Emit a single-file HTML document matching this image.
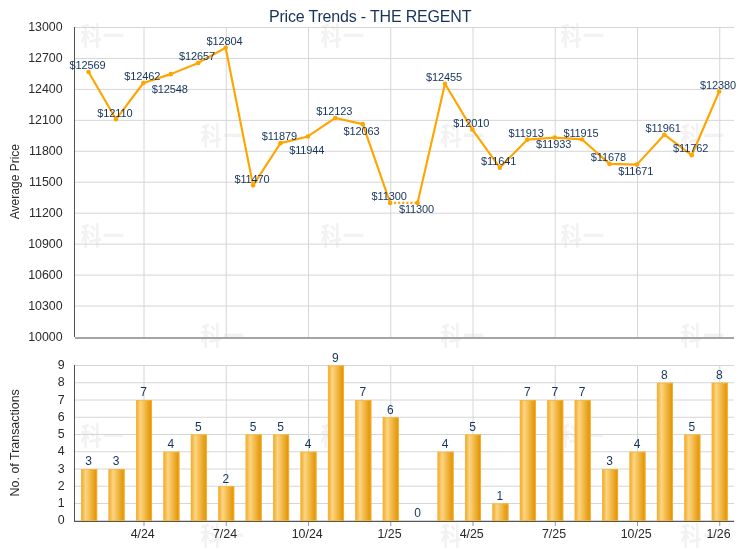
<!DOCTYPE html>
<html><head><meta charset="utf-8"><title>Price Trends - THE REGENT</title>
<style>
html,body{margin:0;padding:0;background:#fff;}
body{width:740px;height:550px;overflow:hidden;font-family:"Liberation Sans","Noto Sans CJK SC",sans-serif;}
svg{display:block}
.ax{font-size:12.4px;fill:#2a2a2a}
.lb{font-size:11px;letter-spacing:-0.117px;fill:#15335d}
.bl{font-size:12px;fill:#15335d}
.wm{font-family:"Liberation Sans","Noto Sans CJK TC",sans-serif;font-weight:700;font-size:21px;letter-spacing:1.5px;fill:#f2f2f2}
</style></head><body>
<svg width="740" height="550" viewBox="0 0 740 550">
<defs><linearGradient id="g" x1="0" y1="0" x2="1" y2="0">
<stop offset="0" stop-color="#f0a626"/><stop offset="0.28" stop-color="#fdd582"/><stop offset="0.95" stop-color="#e39400"/><stop offset="1" stop-color="#e39400"/>
</linearGradient></defs>
<rect width="740" height="550" fill="#fff"/>

<g class="wm">
<text transform="translate(80.5,45) scale(1,1.18)">科一</text>
<text transform="translate(200.5,145) scale(1,1.18)">科一</text>
<text transform="translate(320.5,45) scale(1,1.18)">科一</text>
<text transform="translate(440.5,145) scale(1,1.18)">科一</text>
<text transform="translate(560.5,45) scale(1,1.18)">科一</text>
<text transform="translate(680.5,145) scale(1,1.18)">科一</text>
<text transform="translate(80.5,245) scale(1,1.18)">科一</text>
<text transform="translate(200.5,345) scale(1,1.18)">科一</text>
<text transform="translate(320.5,245) scale(1,1.18)">科一</text>
<text transform="translate(440.5,345) scale(1,1.18)">科一</text>
<text transform="translate(560.5,245) scale(1,1.18)">科一</text>
<text transform="translate(680.5,345) scale(1,1.18)">科一</text>
<text transform="translate(80.5,445) scale(1,1.18)">科一</text>
<text transform="translate(200.5,545) scale(1,1.18)">科一</text>
<text transform="translate(320.5,445) scale(1,1.18)">科一</text>
<text transform="translate(440.5,545) scale(1,1.18)">科一</text>
<text transform="translate(560.5,445) scale(1,1.18)">科一</text>
<text transform="translate(680.5,545) scale(1,1.18)">科一</text>
</g>
<g stroke="#d6d6d6" stroke-width="1">
<line x1="75" x2="734" y1="27.50" y2="27.50"/>
<line x1="75" x2="734" y1="58.45" y2="58.45"/>
<line x1="75" x2="734" y1="89.40" y2="89.40"/>
<line x1="75" x2="734" y1="120.35" y2="120.35"/>
<line x1="75" x2="734" y1="151.30" y2="151.30"/>
<line x1="75" x2="734" y1="182.25" y2="182.25"/>
<line x1="75" x2="734" y1="213.20" y2="213.20"/>
<line x1="75" x2="734" y1="244.15" y2="244.15"/>
<line x1="75" x2="734" y1="275.10" y2="275.10"/>
<line x1="75" x2="734" y1="306.05" y2="306.05"/>
<line x1="75" x2="734" y1="520.50" y2="520.50"/>
<line x1="75" x2="734" y1="503.50" y2="503.50"/>
<line x1="75" x2="734" y1="486.25" y2="486.25"/>
<line x1="75" x2="734" y1="469.00" y2="469.00"/>
<line x1="75" x2="734" y1="451.75" y2="451.75"/>
<line x1="75" x2="734" y1="434.50" y2="434.50"/>
<line x1="75" x2="734" y1="417.25" y2="417.25"/>
<line x1="75" x2="734" y1="400.00" y2="400.00"/>
<line x1="75" x2="734" y1="382.75" y2="382.75"/>
<line x1="75" x2="734" y1="365.50" y2="365.50"/>
<line x1="144.00" x2="144.00" y1="27" y2="337"/>
<line x1="144.00" x2="144.00" y1="365" y2="521"/>
<line x1="226.25" x2="226.25" y1="27" y2="337"/>
<line x1="226.25" x2="226.25" y1="365" y2="521"/>
<line x1="308.51" x2="308.51" y1="27" y2="337"/>
<line x1="308.51" x2="308.51" y1="365" y2="521"/>
<line x1="390.76" x2="390.76" y1="27" y2="337"/>
<line x1="390.76" x2="390.76" y1="365" y2="521"/>
<line x1="473.01" x2="473.01" y1="27" y2="337"/>
<line x1="473.01" x2="473.01" y1="365" y2="521"/>
<line x1="555.26" x2="555.26" y1="27" y2="337"/>
<line x1="555.26" x2="555.26" y1="365" y2="521"/>
<line x1="637.51" x2="637.51" y1="27" y2="337"/>
<line x1="637.51" x2="637.51" y1="365" y2="521"/>
<line x1="719.76" x2="719.76" y1="27" y2="337"/>
<line x1="719.76" x2="719.76" y1="365" y2="521"/>
</g>
<rect x="81.17" y="469.00" width="16" height="52.00" fill="url(#g)"/>
<rect x="81.67" y="469.50" width="15" height="51.00" fill="none" stroke="#fbb73a" stroke-opacity="0.75" stroke-width="1"/>
<rect x="108.59" y="469.00" width="16" height="52.00" fill="url(#g)"/>
<rect x="109.09" y="469.50" width="15" height="51.00" fill="none" stroke="#fbb73a" stroke-opacity="0.75" stroke-width="1"/>
<rect x="136.00" y="400.00" width="16" height="121.00" fill="url(#g)"/>
<rect x="136.50" y="400.50" width="15" height="120.00" fill="none" stroke="#fbb73a" stroke-opacity="0.75" stroke-width="1"/>
<rect x="163.42" y="451.75" width="16" height="69.25" fill="url(#g)"/>
<rect x="163.92" y="452.25" width="15" height="68.25" fill="none" stroke="#fbb73a" stroke-opacity="0.75" stroke-width="1"/>
<rect x="190.84" y="434.50" width="16" height="86.50" fill="url(#g)"/>
<rect x="191.34" y="435.00" width="15" height="85.50" fill="none" stroke="#fbb73a" stroke-opacity="0.75" stroke-width="1"/>
<rect x="218.25" y="486.25" width="16" height="34.75" fill="url(#g)"/>
<rect x="218.75" y="486.75" width="15" height="33.75" fill="none" stroke="#fbb73a" stroke-opacity="0.75" stroke-width="1"/>
<rect x="245.67" y="434.50" width="16" height="86.50" fill="url(#g)"/>
<rect x="246.17" y="435.00" width="15" height="85.50" fill="none" stroke="#fbb73a" stroke-opacity="0.75" stroke-width="1"/>
<rect x="273.09" y="434.50" width="16" height="86.50" fill="url(#g)"/>
<rect x="273.59" y="435.00" width="15" height="85.50" fill="none" stroke="#fbb73a" stroke-opacity="0.75" stroke-width="1"/>
<rect x="300.51" y="451.75" width="16" height="69.25" fill="url(#g)"/>
<rect x="301.01" y="452.25" width="15" height="68.25" fill="none" stroke="#fbb73a" stroke-opacity="0.75" stroke-width="1"/>
<rect x="327.92" y="365.50" width="16" height="155.50" fill="url(#g)"/>
<rect x="328.42" y="366.00" width="15" height="154.50" fill="none" stroke="#fbb73a" stroke-opacity="0.75" stroke-width="1"/>
<rect x="355.34" y="400.00" width="16" height="121.00" fill="url(#g)"/>
<rect x="355.84" y="400.50" width="15" height="120.00" fill="none" stroke="#fbb73a" stroke-opacity="0.75" stroke-width="1"/>
<rect x="382.76" y="417.25" width="16" height="103.75" fill="url(#g)"/>
<rect x="383.26" y="417.75" width="15" height="102.75" fill="none" stroke="#fbb73a" stroke-opacity="0.75" stroke-width="1"/>
<rect x="437.59" y="451.75" width="16" height="69.25" fill="url(#g)"/>
<rect x="438.09" y="452.25" width="15" height="68.25" fill="none" stroke="#fbb73a" stroke-opacity="0.75" stroke-width="1"/>
<rect x="465.01" y="434.50" width="16" height="86.50" fill="url(#g)"/>
<rect x="465.51" y="435.00" width="15" height="85.50" fill="none" stroke="#fbb73a" stroke-opacity="0.75" stroke-width="1"/>
<rect x="492.43" y="503.50" width="16" height="17.50" fill="url(#g)"/>
<rect x="492.93" y="504.00" width="15" height="16.50" fill="none" stroke="#fbb73a" stroke-opacity="0.75" stroke-width="1"/>
<rect x="519.84" y="400.00" width="16" height="121.00" fill="url(#g)"/>
<rect x="520.34" y="400.50" width="15" height="120.00" fill="none" stroke="#fbb73a" stroke-opacity="0.75" stroke-width="1"/>
<rect x="547.26" y="400.00" width="16" height="121.00" fill="url(#g)"/>
<rect x="547.76" y="400.50" width="15" height="120.00" fill="none" stroke="#fbb73a" stroke-opacity="0.75" stroke-width="1"/>
<rect x="574.68" y="400.00" width="16" height="121.00" fill="url(#g)"/>
<rect x="575.18" y="400.50" width="15" height="120.00" fill="none" stroke="#fbb73a" stroke-opacity="0.75" stroke-width="1"/>
<rect x="602.09" y="469.00" width="16" height="52.00" fill="url(#g)"/>
<rect x="602.59" y="469.50" width="15" height="51.00" fill="none" stroke="#fbb73a" stroke-opacity="0.75" stroke-width="1"/>
<rect x="629.51" y="451.75" width="16" height="69.25" fill="url(#g)"/>
<rect x="630.01" y="452.25" width="15" height="68.25" fill="none" stroke="#fbb73a" stroke-opacity="0.75" stroke-width="1"/>
<rect x="656.93" y="382.75" width="16" height="138.25" fill="url(#g)"/>
<rect x="657.43" y="383.25" width="15" height="137.25" fill="none" stroke="#fbb73a" stroke-opacity="0.75" stroke-width="1"/>
<rect x="684.34" y="434.50" width="16" height="86.50" fill="url(#g)"/>
<rect x="684.84" y="435.00" width="15" height="85.50" fill="none" stroke="#fbb73a" stroke-opacity="0.75" stroke-width="1"/>
<rect x="711.76" y="382.75" width="16" height="138.25" fill="url(#g)"/>
<rect x="712.26" y="383.25" width="15" height="137.25" fill="none" stroke="#fbb73a" stroke-opacity="0.75" stroke-width="1"/>
<g shape-rendering="crispEdges" stroke-width="1">
<line x1="74.5" x2="74.5" y1="27" y2="337" stroke="#505050"/>
<rect x="75" y="337" width="659" height="2" fill="#a4a4a4" stroke="none"/>
<line x1="74.5" x2="74.5" y1="365" y2="522" stroke="#505050"/>
<line x1="74" x2="734" y1="521.5" y2="521.5" stroke="#555"/>
</g>
<g stroke="#999" stroke-width="1">
<line x1="144.00" x2="144.00" y1="522" y2="526" />
<line x1="226.25" x2="226.25" y1="522" y2="526" />
<line x1="308.51" x2="308.51" y1="522" y2="526" />
<line x1="390.76" x2="390.76" y1="522" y2="526" />
<line x1="473.01" x2="473.01" y1="522" y2="526" />
<line x1="555.26" x2="555.26" y1="522" y2="526" />
<line x1="637.51" x2="637.51" y1="522" y2="526" />
<line x1="719.76" x2="719.76" y1="522" y2="526" />
</g>
<g fill="none" stroke="#ffa500" stroke-width="2.15" stroke-linejoin="round" stroke-linecap="round">
<polyline points="88.57,71.96 115.99,119.32 143.40,83.00 170.82,74.13 198.24,62.89 225.66,47.72 253.07,185.34 280.49,143.15 307.91,136.44 335.32,117.98 362.74,124.17 390.16,202.88"/>
<polyline points="417.57,202.88 444.99,83.73 472.41,129.63 499.82,167.70 527.24,139.64 554.66,137.58 582.08,139.44 609.49,163.89 636.91,164.61 664.33,134.69 691.74,155.22 719.16,91.46"/>
<line x1="390.16" y1="202.88" x2="417.57" y2="202.88" stroke-linecap="butt" stroke-dasharray="2 2.1" stroke-dashoffset="0.2"/>
</g>
<circle cx="88.57" cy="71.96" r="2.3" fill="#ffa500"/>
<circle cx="115.99" cy="119.32" r="2.3" fill="#ffa500"/>
<circle cx="143.40" cy="83.00" r="2.3" fill="#ffa500"/>
<circle cx="170.82" cy="74.13" r="2.3" fill="#ffa500"/>
<circle cx="198.24" cy="62.89" r="2.3" fill="#ffa500"/>
<circle cx="225.66" cy="47.72" r="2.3" fill="#ffa500"/>
<circle cx="253.07" cy="185.34" r="2.3" fill="#ffa500"/>
<circle cx="280.49" cy="143.15" r="2.3" fill="#ffa500"/>
<circle cx="307.91" cy="136.44" r="2.3" fill="#ffa500"/>
<circle cx="335.32" cy="117.98" r="2.3" fill="#ffa500"/>
<circle cx="362.74" cy="124.17" r="2.3" fill="#ffa500"/>
<circle cx="390.16" cy="202.88" r="2.3" fill="#ffa500"/>
<circle cx="417.57" cy="202.88" r="2.3" fill="#ffa500"/>
<circle cx="444.99" cy="83.73" r="2.3" fill="#ffa500"/>
<circle cx="472.41" cy="129.63" r="2.3" fill="#ffa500"/>
<circle cx="499.82" cy="167.70" r="2.3" fill="#ffa500"/>
<circle cx="527.24" cy="139.64" r="2.3" fill="#ffa500"/>
<circle cx="554.66" cy="137.58" r="2.3" fill="#ffa500"/>
<circle cx="582.08" cy="139.44" r="2.3" fill="#ffa500"/>
<circle cx="609.49" cy="163.89" r="2.3" fill="#ffa500"/>
<circle cx="636.91" cy="164.61" r="2.3" fill="#ffa500"/>
<circle cx="664.33" cy="134.69" r="2.3" fill="#ffa500"/>
<circle cx="691.74" cy="155.22" r="2.3" fill="#ffa500"/>
<circle cx="719.16" cy="91.46" r="2.3" fill="#ffa500"/>
<text x="370.2" y="22" text-anchor="middle" font-size="16" fill="#15335d" textLength="202.6" lengthAdjust="spacing">Price Trends - THE REGENT</text>
<g class="ax" text-anchor="end">
<text x="62.6" y="31.4">13000</text>
<text x="62.6" y="62.4">12700</text>
<text x="62.6" y="93.3">12400</text>
<text x="62.6" y="124.2">12100</text>
<text x="62.6" y="155.2">11800</text>
<text x="62.6" y="186.2">11500</text>
<text x="62.6" y="217.1">11200</text>
<text x="62.6" y="248.1">10900</text>
<text x="62.6" y="279.0">10600</text>
<text x="62.6" y="309.9">10300</text>
<text x="62.6" y="340.9">10000</text>
<text x="64.6" y="524.4">0</text>
<text x="64.6" y="507.1">1</text>
<text x="64.6" y="489.9">2</text>
<text x="64.6" y="472.6">3</text>
<text x="64.6" y="455.4">4</text>
<text x="64.6" y="438.1">5</text>
<text x="64.6" y="420.9">6</text>
<text x="64.6" y="403.6">7</text>
<text x="64.6" y="386.4">8</text>
<text x="64.6" y="369.1">9</text>
</g>
<g class="ax" text-anchor="middle">
<text x="142.7" y="538.3">4/24</text>
<text x="225.0" y="538.3">7/24</text>
<text x="307.2" y="538.3">10/24</text>
<text x="389.5" y="538.3">1/25</text>
<text x="471.7" y="538.3">4/25</text>
<text x="554.0" y="538.3">7/25</text>
<text x="636.2" y="538.3">10/25</text>
<text x="718.5" y="538.3">1/26</text>
<text transform="translate(19,181.6) rotate(-90)" font-size="12">Average Price</text>
<text transform="translate(19,442.8) rotate(-90)" font-size="12.45">No. of Transactions</text>
</g>
<g class="lb" text-anchor="middle">
<text x="87.5" y="69.2">$12569</text>
<text x="114.9" y="116.5">$12110</text>
<text x="142.3" y="80.2">$12462</text>
<text x="169.7" y="92.6">$12548</text>
<text x="197.1" y="60.1">$12657</text>
<text x="224.6" y="44.9">$12804</text>
<text x="252.0" y="182.5">$11470</text>
<text x="279.4" y="140.3">$11879</text>
<text x="306.8" y="154.0">$11944</text>
<text x="334.2" y="115.2">$12123</text>
<text x="361.6" y="134.9">$12063</text>
<text x="389.1" y="200.1">$11300</text>
<text x="416.5" y="212.7">$11300</text>
<text x="443.9" y="80.9">$12455</text>
<text x="471.3" y="126.8">$12010</text>
<text x="498.7" y="164.9">$11641</text>
<text x="526.1" y="136.8">$11913</text>
<text x="553.6" y="147.8">$11933</text>
<text x="581.0" y="136.6">$11915</text>
<text x="608.4" y="161.1">$11678</text>
<text x="635.8" y="175.0">$11671</text>
<text x="663.2" y="131.9">$11961</text>
<text x="690.6" y="152.4">$11762</text>
<text x="718.1" y="88.7">$12380</text>
</g><g class="bl" text-anchor="middle">
<text x="88.7" y="465.4">3</text>
<text x="116.1" y="465.4">3</text>
<text x="143.5" y="396.4">7</text>
<text x="170.9" y="448.1">4</text>
<text x="198.3" y="430.9">5</text>
<text x="225.8" y="482.6">2</text>
<text x="253.2" y="430.9">5</text>
<text x="280.6" y="430.9">5</text>
<text x="308.0" y="448.1">4</text>
<text x="335.4" y="361.9">9</text>
<text x="362.8" y="396.4">7</text>
<text x="390.3" y="413.6">6</text>
<text x="417.7" y="517.1">0</text>
<text x="445.1" y="448.1">4</text>
<text x="472.5" y="430.9">5</text>
<text x="499.9" y="499.9">1</text>
<text x="527.3" y="396.4">7</text>
<text x="554.8" y="396.4">7</text>
<text x="582.2" y="396.4">7</text>
<text x="609.6" y="465.4">3</text>
<text x="637.0" y="448.1">4</text>
<text x="664.4" y="379.1">8</text>
<text x="691.8" y="430.9">5</text>
<text x="719.3" y="379.1">8</text>
</g>
</svg></body></html>
